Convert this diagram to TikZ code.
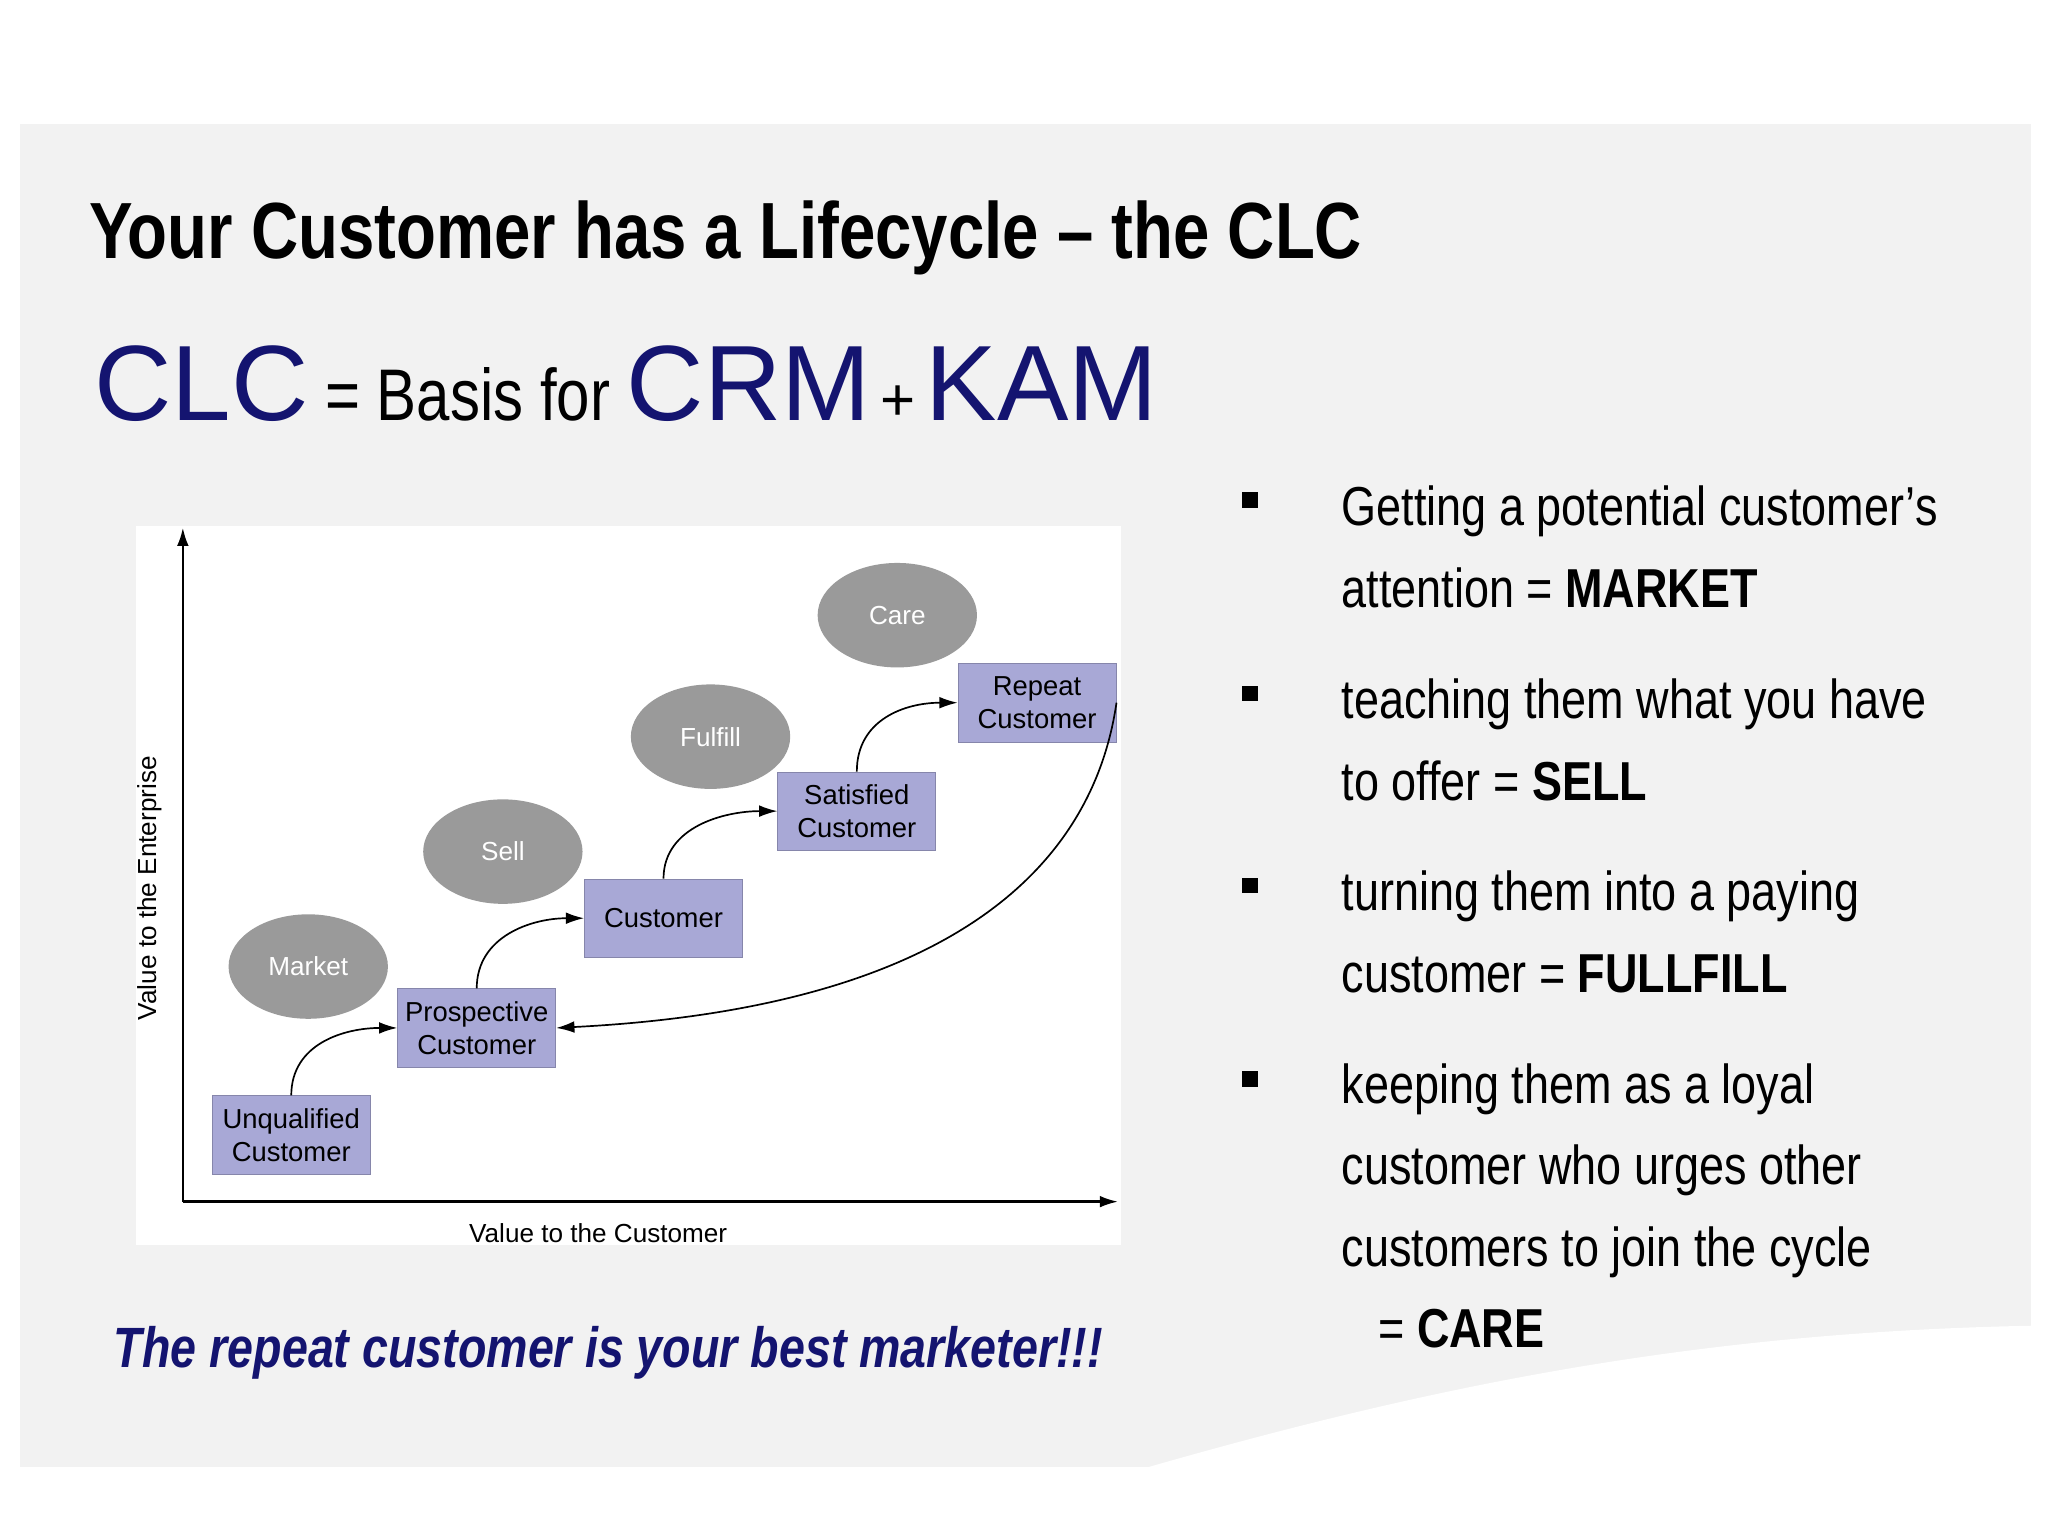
\documentclass[tikz,border=0pt]{standalone}
\usepackage{fontspec}
\setmainfont{Liberation Sans}
\newfontfamily\narrowf[FakeStretch=0.82,Ligatures=TeX]{Liberation Sans}
\usetikzlibrary{shapes.geometric,arrows.meta}
\definecolor{slidebg}{HTML}{F2F2F2}
\definecolor{navy}{HTML}{141470}
\definecolor{ovalgrey}{HTML}{9A9A9A}
\definecolor{lav}{HTML}{A8A8D6}
\tikzset{
  oval/.style={ellipse,fill=ovalgrey,minimum width=122pt,minimum height=80pt,text=white,font=\fontsize{20}{22}\selectfont},
  stage/.style={rectangle,fill=lav,draw=lav!80!black,line width=0.6pt,minimum width=121pt,minimum height=60pt,align=center,font=\fontsize{21}{25}\selectfont},
  flow/.style={-{Latex[length=14pt,width=9pt]},line width=1.3pt},
  bullet/.style={anchor=base west,inner sep=0,font=\narrowf\fontsize{42}{44}\selectfont},
}
\begin{document}
\begin{tikzpicture}[x=1pt,y=-1pt]
\useasboundingbox (0,0) rectangle (1568,1176);
\fill[white] (0,0) rectangle (1568,1176);
\fill[slidebg] (15,95) rectangle (1555,1123);
\fill[white] (880,1123) .. controls (1100,1060) and (1300,1020) .. (1555,1015) -- (1555,1123) -- cycle;
% title
\node[anchor=base west,inner sep=0] (title) at (68,198) {\narrowf\bfseries\fontsize{61}{66}\selectfont Your Customer has a Lifecycle – the CLC};
\node[anchor=base west,inner sep=0] (clc) at (72,322) {\fontsize{82}{90}\selectfont\color{navy}CLC\narrowf\color{black}\fontsize{56}{60}\selectfont\ = Basis for \normalfont\fontsize{82}{90}\selectfont\color{navy}CRM\color{black}\fontsize{46}{60}\selectfont\,+\,\color{navy}\fontsize{82}{90}\selectfont KAM};
% chart
\fill[white] (104,403) rectangle (858,953);
\coordinate (o) at (140,920);
\coordinate (ytop) at (140,404);
\coordinate (xend) at (856,920);
\draw[flow,line width=1.8pt] (o) -- (ytop);
\draw[flow,line width=1.8pt] (o) -- (xend);
\node[font=\fontsize{20}{22}\selectfont] (xl) at (458,944) {Value to the Customer};
\node[font=\fontsize{20}{22}\selectfont,rotate=90] (yl) at (115,680) {Value to the Enterprise};
\node[oval] (market) at (236,740) {Market};
\node[oval] (sell) at (385,652) {Sell};
\node[oval] (fulfill) at (544,564) {Fulfill};
\node[oval] (care) at (687,471) {Care};
\node[stage] (unq) at (223,869) {Unqualified\\Customer};
\node[stage] (pro) at (365,787) {Prospective\\Customer};
\node[stage] (cus) at (508,703) {Customer};
\node[stage] (sat) at (656,621) {Satisfied\\Customer};
\node[stage] (rep) at (794,538) {Repeat\\Customer};
\draw[flow] (unq.north) .. controls +(0,-40) and +(-40,0) .. (pro.west);
\draw[flow] (pro.north) .. controls +(0,-40) and +(-40,0) .. (cus.west);
\draw[flow] (cus.north) .. controls +(0,-40) and +(-40,0) .. (sat.west);
\draw[flow] (sat.north) .. controls +(0,-40) and +(-40,0) .. (rep.west);
\draw[flow] (rep.east) .. controls (840,640) and (760,770) .. (pro.east);
% caption
\node[anchor=base west,inner sep=0,text=navy] (cap) at (87,1047) {\narrowf\bfseries\itshape\fontsize{43.5}{46}\selectfont The repeat customer is your best marketer!!!};
% bullets
\foreach \y in {383,531,678,826}{\fill (951,\y-6) rectangle (963,\y+6);}
\node[bullet] (t1) at (1027,402) {Getting a potential customer's};
\node[bullet] (t2) at (1027,465) {attention = \textbf{MARKET}};
\node[bullet] (t3) at (1027,550) {teaching them what you have};
\node[bullet] (t4) at (1027,613) {to offer = \textbf{SELL}};
\node[bullet] (t5) at (1027,697) {turning them into a paying};
\node[bullet] (t6) at (1027,760) {customer = \textbf{FULLFILL}};
\node[bullet] (t7) at (1027,845) {keeping them as a loyal};
\node[bullet] (t8) at (1027,907) {customer who urges other};
\node[bullet] (t9) at (1027,970) {customers to join the cycle};
\node[bullet] (t10) at (1055,1032) {= \textbf{CARE}};
\end{tikzpicture}
\end{document}
